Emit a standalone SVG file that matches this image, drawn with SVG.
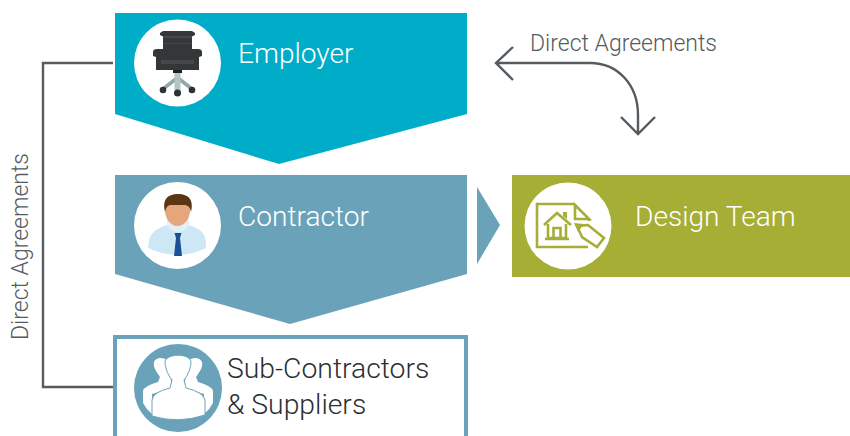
<svg xmlns="http://www.w3.org/2000/svg" width="850" height="436" viewBox="0 0 850 436">
<style>
.lbl{font-family:"Roboto","Liberation Sans",sans-serif;font-weight:300;font-size:28.100px;fill:#fff}
.dark{fill:#2b2f33;font-size:28.300px}
.note{font-family:"Roboto","Liberation Sans",sans-serif;font-weight:300;font-size:23px;fill:#555b60}
.line{fill:none;stroke:#555b60;stroke-width:2.400}
.ic{fill:none;stroke:#a6ae36;stroke-width:2.600}
.circ{fill:#fff}
</style>
<rect width="850" height="436" fill="#fff"/>
<g id="connectors">
<path class="line" d="M113 63H43V387H113"/>
<path class="line" d="M513 47L496 63L513 80M496 63H590C618 63 638 85 638 115V134M621 117L638 134L655 117"/>
<polygon points="477,187 500,225 477,264" fill="#6aa3b9"/>
<text class="note" x="530" y="51">Direct Agreements</text>
<text class="note" transform="translate(28,340) rotate(-90)">Direct Agreements</text>
</g>
<g id="employer">
<polygon points="115,13 467,13 467,114 279,164 115,114" fill="#00adc9"/>
<circle class="circ" cx="177.500" cy="63" r="43.500"/>
<path d="M177 78L163 89M178 78L192 89" stroke="#93a6a6" stroke-width="3.500" fill="none"/>
<rect x="174.500" y="73" width="6" height="18" fill="#b4c5c5"/>
<circle cx="163" cy="90" r="3.300" fill="#2f3233"/><circle cx="177.500" cy="93" r="3.500" fill="#2f3233"/><circle cx="192" cy="90" r="3.300" fill="#2f3233"/>
<path d="M163 31H192L195 33V35L192 36.500V49H198Q202 49 202 52V56L199 57V70H156V57L153 56V52Q153 49 157 49H163V36.500L160 35V33Z" fill="#343737"/>
<path d="M163 36H192V38H163ZM163 43H192V44H163Z" fill="#454848"/>
<rect x="161" y="60" width="33" height="4" fill="#454848"/>
<rect x="173" y="70" width="9" height="3" fill="#1f2121"/>
<text class="lbl" x="238" y="63">Employer</text>
</g>
<g id="contractor">
<polygon points="115,175 467,175 467,274 290,324 115,274" fill="#6aa3b9"/>
<circle class="circ" cx="177.500" cy="225.500" r="43.500"/>
<path d="M148 248C149 234 153 230 167 225L178 223L189 225C203 230 206 234 206 248Q178 262 148 248Z" fill="#cde7f5"/>
<path d="M167 226Q178 238 189 226V216H167Z" fill="#e0f0f9"/>
<ellipse cx="177.500" cy="210" rx="12.500" ry="16" fill="#e6a67c"/>
<path d="M165 212C162 200 167 194 178 194C189 194 194 200 191 212C190 207 188 205 184 205H171C168 205 166 207 165 212Z" fill="#5a3614"/>
<path d="M174.500 233H181.500L180 238L182 256H174L176 238Z" fill="#1b4f96"/>
<text class="lbl" x="238" y="226">Contractor</text>
</g>
<g id="design-team">
<rect x="512" y="175" width="338" height="102" fill="#a6ae36"/>
<circle class="circ" cx="568" cy="226" r="43.500"/>
<path class="ic" d="M575 204H537V247H588M575 205L589 219H575ZM589 219V221"/>
<path class="ic" d="M544 225L557 213L571 225M548 224V238H566V224M553.500 238V228H560.500V238M545 239H569"/>
<path d="M563 212H567V219L563 216Z" fill="#a6ae36"/>
<path class="ic" d="M582 237L577 226L588 225L604 238L597 247Z"/>
<path d="M574 223L584 224L578 232Z" fill="#a6ae36"/>
<text class="lbl" x="635" y="226">Design Team</text>
</g>
<g id="subcontractors">
<rect x="115" y="337" width="351" height="130" fill="#fff" stroke="#6aa3b9" stroke-width="4"/>
<circle cx="178" cy="388" r="44" fill="#6aa3b9"/>
<path d="M143 403V391Q144 386 158 382L160 377C155 370 153 366 154 362C156 357 164 357 168 361L172 388L152 394V414Q146 409 143 403Z" fill="#fff"/>
<path d="M213 403V391Q212 386 198 382L196 377C201 370 203 366 202 362C200 357 192 357 188 361L184 388L204 394V414Q210 409 213 403Z" fill="#fff"/>
<path d="M152 416V400Q153 392 170 388L172 380C167 374 165 366 165 362C166 353 190 353 191 362C191 366 189 374 184 380L186 388Q203 392 205 400V415Q178 424 152 416Z" fill="#fff" stroke="#6aa3b9" stroke-width="1"/>
<text class="lbl dark" x="227" y="378">Sub-Contractors</text>
<text class="lbl dark" x="227" y="414">&amp; Suppliers</text>
</g>
</svg>
